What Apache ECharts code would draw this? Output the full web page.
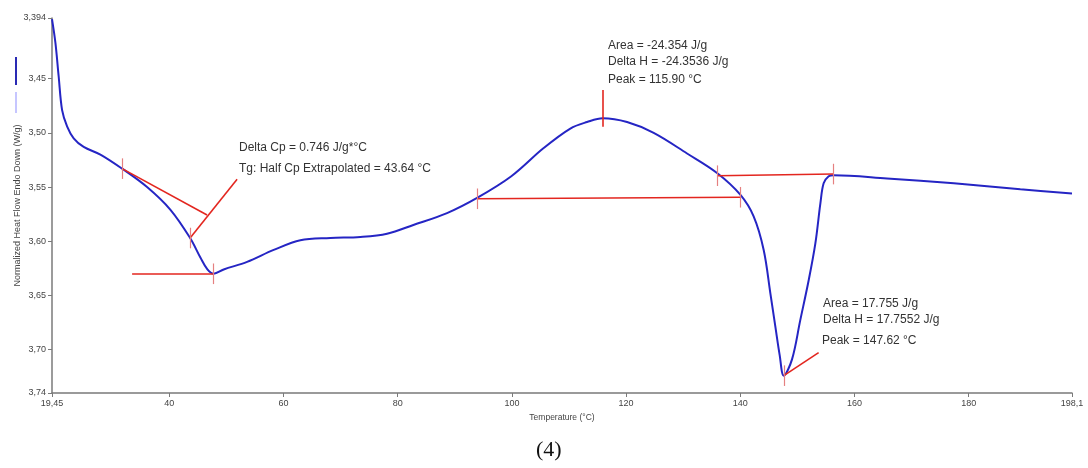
<!DOCTYPE html>
<html>
<head>
<meta charset="utf-8">
<script src="https://cdn.jsdelivr.net/npm/echarts@6/dist/echarts.min.js"></script>
<style>
  html, body { margin: 0; padding: 0; background: #ffffff; }
  #chart { width: 1088px; height: 468px; }
</style>
</head>
<body>
<div id="chart"></div>
<script>
// DSC heating scan: temperature (°C) and normalized heat flow (W/g, endo down)
const temperature = [19.45, 20.05, 20.62, 21.22, 22.09, 23.25, 25.0, 27.93, 31.73, 36.1,
  40.2, 43.64, 45.44, 46.67, 47.77, 49.52, 53.62, 58.28, 62.95, 68.2,
  73.46, 78.13, 82.74, 88.64, 93.9, 99.9, 105.56, 110.23, 113.16, 115.9,
  120.17, 124.83, 130.68, 135.93, 140.0, 142.34, 144.1, 145.27, 146.15, 146.9,
  147.62, 149.06, 150.5, 151.98, 153.15, 154.03, 154.6, 155.48, 156.35, 165.7,
  177.4, 189.05, 198.1];
const heatFlow = [3.395, 3.417, 3.448, 3.479, 3.494, 3.505, 3.513, 3.520, 3.533, 3.550,
  3.571, 3.597, 3.615, 3.626, 3.630, 3.626, 3.619, 3.608, 3.599, 3.597,
  3.596, 3.593, 3.585, 3.574, 3.560, 3.540, 3.514, 3.496, 3.490, 3.4865,
  3.490, 3.500, 3.519, 3.537, 3.557, 3.577, 3.608, 3.648, 3.679, 3.705,
  3.724, 3.709, 3.673, 3.636, 3.602, 3.565, 3.5465, 3.540, 3.539, 3.542,
  3.5465, 3.552, 3.556];

// axis ticks
const xTickValues = [19.45, 40, 60, 80, 100, 120, 140, 160, 180, 198.1];
const xTickLabels = ['19,45', '40', '60', '80', '100', '120', '140', '160', '180', '198,1'];
const yTickValues = [3.394, 3.45, 3.50, 3.55, 3.60, 3.65, 3.70, 3.74];
const yTickLabels = ['3,394', '3,45', '3,50', '3,55', '3,60', '3,65', '3,70', '3,74'];

// analysis construction lines [[T1, HF1], [T2, HF2]]
const tgTangent = [[31.73, 3.533], [46.61, 3.5757]];
const tgLeader = [[43.64, 3.597], [51.87, 3.5428]];
const tgBaseline = [[33.48, 3.630], [47.77, 3.630]];
const exoBaseline = [[93.9, 3.5608], [140.0, 3.5594]];
const exoPeakMarker = [[115.9, 3.4604], [115.9, 3.4943]];
const endoBaseline = [[135.93, 3.5395], [156.35, 3.538]];
const endoPeakLeader = [[147.62, 3.724], [153.72, 3.7028]];
// limit / event markers on the curve
const markerPoints = [[31.73, 3.533], [43.64, 3.597], [47.77, 3.630], [93.9, 3.5608],
  [140.0, 3.5594], [135.93, 3.5395], [156.35, 3.538], [147.62, 3.724]];

// result texts
const tgTexts = ['Delta Cp = 0.746 J/g*°C', 'Tg: Half Cp Extrapolated = 43.64 °C'];
const exoTexts = ['Area = -24.354 J/g', 'Delta H = -24.3536 J/g', 'Peak = 115.90 °C'];
const endoTexts = ['Area = 17.755 J/g', 'Delta H = 17.7552 J/g', 'Peak = 147.62 °C'];

const RED = '#e3261f';
const TICK_RED = '#e58080';
const FONT = '"Liberation Sans", Arial, sans-serif';

const constructionLines = [tgTangent, tgLeader, tgBaseline, exoBaseline,
  exoPeakMarker, endoBaseline, endoPeakLeader];

const halfTick = 0.0095;
const markerSegments = markerPoints.map(p => [
  { coord: [p[0], p[1] - halfTick] }, { coord: [p[0], p[1] + halfTick] }
]);

const curve = temperature.map((t, i) => [t, heatFlow[i]]);

const chart = echarts.init(document.getElementById('chart'), null, { renderer: 'canvas' });

function textBlock(lines, lefts, tops, size) {
  return lines.map((s, i) => ({
    type: 'text', left: lefts[i], top: tops[i],
    style: { text: s, font: size + 'px ' + FONT, fill: '#333333' }
  }));
}

chart.setOption({
  animation: false,
  backgroundColor: '#ffffff',
  grid: { left: 52, right: 16, top: 18, bottom: 75 },
  xAxis: {
    type: 'value', min: 19.45, max: 198.1,
    name: 'Temperature (°C)', nameLocation: 'middle', nameGap: 16,
    nameTextStyle: { fontFamily: FONT, fontSize: 8.5, color: '#444' },
    axisLine: { lineStyle: { color: '#7a7a7a', width: 1.5 } },
    axisTick: { customValues: xTickValues, length: 4, lineStyle: { color: '#7a7a7a' } },
    axisLabel: {
      customValues: xTickValues, fontFamily: FONT, fontSize: 9, color: '#444', margin: 6,
      formatter: v => { const i = xTickValues.findIndex(x => Math.abs(x - v) < 1e-6); return i >= 0 ? xTickLabels[i] : ''; }
    },
    splitLine: { show: false }
  },
  yAxis: {
    type: 'value', inverse: true, min: 3.394, max: 3.74,
    name: 'Normalized Heat Flow Endo Down (W/g)', nameLocation: 'middle', nameGap: 30,
    nameMoveOverlap: false,
    nameTextStyle: { fontFamily: FONT, fontSize: 9, color: '#444' },
    axisLine: { show: true, lineStyle: { color: '#7a7a7a', width: 1.5 } },
    axisTick: { show: true, customValues: yTickValues, length: 4, lineStyle: { color: '#7a7a7a' } },
    axisLabel: {
      customValues: yTickValues, fontFamily: FONT, fontSize: 9, color: '#444', margin: 6,
      formatter: v => { const i = yTickValues.findIndex(y => Math.abs(y - v) < 1e-6); return i >= 0 ? yTickLabels[i] : ''; }
    },
    splitLine: { show: false }
  },
  series: [
    {
      type: 'line', name: 'heat flow', data: curve,
      smooth: 0.35, showSymbol: false,
      lineStyle: { color: '#2525c4', width: 2 }, z: 3
    },
    {
      type: 'line', name: 'construction', data: [], silent: true,
      markLine: {
        silent: true, symbol: 'none', label: { show: false },
        lineStyle: { color: RED, width: 1.6, type: 'solid' },
        data: constructionLines.map(l => [{ coord: l[0] }, { coord: l[1] }])
      },
      z: 4
    },
    {
      type: 'line', name: 'markers', data: [], silent: true,
      markLine: {
        silent: true, symbol: 'none', label: { show: false },
        lineStyle: { color: TICK_RED, width: 1.2, type: 'solid' },
        data: markerSegments
      },
      z: 5
    }
  ],
  graphic: [
    { type: 'line', shape: { x1: 16, y1: 57, x2: 16, y2: 85 }, style: { stroke: '#2a2ab4', lineWidth: 2 } },
    { type: 'line', shape: { x1: 16, y1: 92, x2: 16, y2: 113 }, style: { stroke: '#8d8dff', lineWidth: 1 } },
    ...textBlock(tgTexts, [239, 239], [142, 163], 12),
    ...textBlock(exoTexts, [608, 608, 608], [40, 56, 74], 12),
    ...textBlock(endoTexts, [823, 823, 822], [298, 314, 335], 12),
    {
      type: 'text', left: 536, top: 439,
      style: { text: '(4)', font: '22px "Liberation Serif", "Times New Roman", serif', fill: '#111' }
    }
  ]
});
</script>
</body>
</html>
